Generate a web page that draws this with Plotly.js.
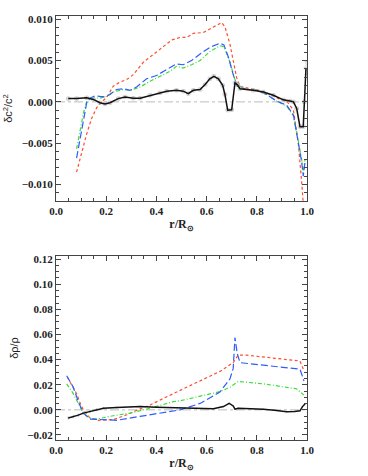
<!DOCTYPE html>
<html>
<head>
<meta charset="utf-8">
<script src="https://cdn.plot.ly/plotly-3.0.1.min.js"></script>
<style>html,body{margin:0;padding:0;background:#fff;}#chart{width:368px;height:476px;}</style>
</head>
<body>
<div id="chart"></div>
<script>
// ---- Top panel: sound-speed difference dc^2/c^2 ----
const obsX_c = [0.049,0.082,0.122,0.149,0.175,0.195,0.215,0.248,0.275,0.308,0.335,0.375,0.414,0.441,0.48,0.507,0.527,0.547,0.574,0.594,0.613,0.629,0.647,0.664,0.673,0.684,0.700,0.713,0.722,0.733,0.786,0.826,0.866,0.906,0.932,0.946,0.959,0.972,0.985,0.989,0.996];
const obsY_c = [0.0004,0.0004,0.0005,0.0003,-0.0001,-0.00025,-0.0001,0.0004,0.0006,0.00045,0.00045,0.0008,0.0011,0.0013,0.0014,0.0013,0.001,0.0014,0.0015,0.0021,0.0028,0.0031,0.0028,0.002,0.0009,-0.001,-0.00095,0.0023,0.0021,0.0016,0.0014,0.0012,0.0008,0.00025,0.0001,0.0,-0.0008,-0.003,-0.003,0.0,0.0041];
const obsErr_c = [0.0002,0.0002,0.0002,0.0002,0.0002,0.0002,0.0002,0.0002,0.0002,0.0002,0.0002,0.0002,0.0002,0.0002,0.0002,0.0002,0.0002,0.0002,0.0002,0.0002,0.0002,0.0002,0.0002,0.0002,0.0002,0.0002,0.0002,0.0002,0.0002,0.0002,0.0002,0.0002,0.0002,0.0002,0.0002,0.0002,0.0002,0.0002,0.0002,0.0002,0.0008];

const redX_c = [0.082,0.102,0.122,0.142,0.162,0.182,0.202,0.228,0.255,0.282,0.308,0.348,0.388,0.428,0.461,0.494,0.521,0.547,0.587,0.627,0.66,0.673,0.693,0.706,0.72,0.733,0.773,0.813,0.853,0.892,0.919,0.946,0.965,0.979,0.985];
const redY_c = [-0.0085,-0.0061,-0.0039,-0.002,-0.0007,0.0,0.00053,0.0019,0.0024,0.0027,0.0033,0.0048,0.0057,0.0067,0.0075,0.0078,0.0078,0.0083,0.0084,0.0091,0.0096,0.0091,0.007,0.005,0.0029,0.0019,0.0016,0.0014,0.0009,0.0003,0.0001,-0.001,-0.0049,-0.0098,-0.0123];

const blueX_c = [0.082,0.096,0.109,0.122,0.135,0.155,0.175,0.195,0.215,0.242,0.268,0.295,0.321,0.361,0.401,0.441,0.48,0.507,0.54,0.574,0.613,0.653,0.669,0.687,0.706,0.722,0.76,0.8,0.839,0.879,0.919,0.946,0.965,0.979,0.985,0.992];
const blueY_c = [-0.0068,-0.0043,-0.002,-0.00016,0.00045,0.00074,0.00066,0.0006,0.0009,0.0015,0.0016,0.0014,0.0018,0.0028,0.0032,0.0039,0.0046,0.0045,0.005,0.0058,0.0066,0.0071,0.0069,0.0054,0.0033,0.0019,0.0015,0.0014,0.0009,0.0001,-0.0004,-0.0016,-0.0049,-0.0073,-0.009,-0.0073];

const greenX_c = [0.082,0.096,0.109,0.122,0.142,0.175,0.202,0.228,0.268,0.295,0.335,0.375,0.414,0.454,0.48,0.507,0.54,0.574,0.613,0.653,0.669,0.693,0.713,0.733,0.76,0.8,0.839,0.879,0.919,0.946,0.965,0.979,0.985,0.992];
const greenY_c = [-0.0057,-0.0034,-0.0014,0.00004,0.0005,0.00045,0.00066,0.0012,0.0015,0.0014,0.0018,0.0025,0.0031,0.0037,0.0043,0.0041,0.0045,0.005,0.0061,0.0068,0.0067,0.0048,0.0027,0.0019,0.0015,0.0014,0.0009,0.0001,-0.0005,-0.0017,-0.0047,-0.0070,-0.0086,-0.0070];

// ---- Bottom panel: density difference drho/rho ----
const obsX_r = [0.049,0.069,0.089,0.109,0.135,0.162,0.189,0.242,0.30,0.335,0.401,0.494,0.56,0.627,0.667,0.69,0.706,0.713,0.726,0.78,0.826,0.87,0.919,0.95,0.972,0.982,0.992];
const obsY_r = [-0.0065,-0.0055,-0.0042,-0.0026,-0.0012,0.0001,0.0013,0.0018,0.0024,0.0026,0.002,0.0014,0.0011,0.0008,0.0026,0.0051,0.0031,0.0005,0.0013,0.0010,0.0005,-0.0004,-0.0016,-0.0013,-0.0008,0.0026,0.0047];
const obsErr_r = [0.0012,0.0012,0.0012,0.0012,0.0012,0.0012,0.001,0.0008,0.0006,0.0006,0.0005,0.0005,0.0005,0.0005,0.0005,0.0005,0.0005,0.0005,0.0005,0.0005,0.0005,0.0005,0.0005,0.0005,0.0005,0.0005,0.0005];

const redX_r = [0.045,0.069,0.082,0.095,0.109,0.135,0.169,0.228,0.282,0.335,0.375,0.435,0.494,0.56,0.653,0.706,0.726,0.76,0.84,0.92,0.972,0.988];
const redY_r = [0.026,0.018,0.0129,0.006,0.0,-0.0065,-0.0083,-0.0078,-0.0039,0.0008,0.0039,0.0098,0.0156,0.0215,0.0306,0.0376,0.0436,0.0435,0.0418,0.040,0.0389,0.031];

const blueX_r = [0.0426,0.069,0.089,0.109,0.135,0.175,0.242,0.335,0.467,0.494,0.574,0.653,0.693,0.706,0.713,0.722,0.733,0.80,0.90,0.972,0.988];
const blueY_r = [0.0272,0.018,0.0065,-0.0026,-0.0073,-0.0078,-0.0083,-0.0052,-0.0013,0.0,0.0051,0.0142,0.0246,0.033,0.0576,0.045,0.0376,0.0362,0.0345,0.0324,0.023];

const greenX_r = [0.0426,0.069,0.089,0.109,0.135,0.162,0.228,0.295,0.375,0.467,0.494,0.574,0.653,0.693,0.726,0.826,0.958,0.988];
const greenY_r = [0.0207,0.0129,0.0051,-0.0026,-0.0065,-0.0073,-0.0047,-0.0026,0.0013,0.0065,0.0072,0.0109,0.0145,0.018,0.0226,0.0207,0.0168,0.0117];

const RED = '#ff4d2e', BLUE = '#2f5cff', GREEN = '#3ddc3d';

function line(x, y, color, dash, xa, ya) {
  return {x: x, y: y, xaxis: xa, yaxis: ya, mode: 'lines', type: 'scatter',
    line: {color: color, width: 1.2, dash: dash}, showlegend: false, hoverinfo: 'skip'};
}

const traces = [
  line(redX_c, redY_c, RED, '3px,2.5px', 'x', 'y'),
  line(greenX_c, greenY_c, GREEN, '4px,2px,1px,2px', 'x', 'y'),
  line(blueX_c, blueY_c, BLUE, '7px,3px', 'x', 'y'),
  {x: obsX_c, y: obsY_c, xaxis: 'x', yaxis: 'y', mode: 'lines', type: 'scatter',
   line: {color: '#111', width: 1.5}, showlegend: false,
   error_y: {type: 'data', array: obsErr_c, color: '#bbb', thickness: 0.7, width: 1.5},
   error_x: {type: 'constant', value: 0.007, color: '#bbb', thickness: 0.7, width: 1.5}},
  line(redX_r, redY_r, RED, '3px,2.5px', 'x2', 'y2'),
  line(greenX_r, greenY_r, GREEN, '4px,2px,1px,2px', 'x2', 'y2'),
  line(blueX_r, blueY_r, BLUE, '7px,3px', 'x2', 'y2'),
  {x: obsX_r, y: obsY_r, xaxis: 'x2', yaxis: 'y2', mode: 'lines', type: 'scatter',
   line: {color: '#111', width: 1.5}, showlegend: false,
   error_y: {type: 'data', array: obsErr_r, color: '#bbb', thickness: 1.5, width: 0}}
];

const tickFont = {family: 'Liberation Serif, serif', size: 11, color: '#222', weight: 'bold'};
const titleFont = {family: 'Liberation Serif, serif', size: 12, color: '#222', weight: 'bold'};
const yTitleFont = {family: 'Liberation Sans, sans-serif', size: 11, color: '#222'};

function xax(anchor) {
  return {anchor: anchor, range: [0, 1], dtick: 0.2, tick0: 0, tickformat: '.1f',
    ticks: 'inside', ticklen: 5, tickcolor: '#444', mirror: 'allticks', showline: true,
    linecolor: '#444', linewidth: 1, showgrid: false, zeroline: false, tickfont: tickFont,
    minor: {dtick: 0.05, ticklen: 3, tickcolor: '#444', ticks: 'inside'},
    title: {text: 'r/R<sub>⊙</sub>', font: titleFont, standoff: 3}};
}

const layout = {
  width: 368, height: 476,
  margin: {l: 56, r: 61, t: 16, b: 36},
  paper_bgcolor: '#fff', plot_bgcolor: '#fff',
  xaxis: xax('y'),
  xaxis2: xax('y2'),
  yaxis: {domain: [0.5637, 1], anchor: 'x', range: [-0.012, 0.0104], dtick: 0.005, tickformat: '.3f',
    ticks: 'inside', ticklen: 5, tickcolor: '#444', mirror: 'allticks', showline: true,
    linecolor: '#444', showgrid: false, zeroline: false, tickfont: tickFont,
    minor: {dtick: 0.001, ticklen: 3, tickcolor: '#444', ticks: 'inside'},
    title: {text: 'δc<sup>2</sup>/c<sup>2</sup>', font: yTitleFont, standoff: 6}},
  yaxis2: {domain: [0, 0.434], anchor: 'x2', range: [-0.024, 0.1225], dtick: 0.02, tickformat: '.2f',
    ticks: 'inside', ticklen: 5, tickcolor: '#444', mirror: 'allticks', showline: true,
    linecolor: '#444', showgrid: false, zeroline: false, tickfont: tickFont,
    minor: {dtick: 0.005, ticklen: 3, tickcolor: '#444', ticks: 'inside'},
    title: {text: 'δρ/ρ', font: yTitleFont, standoff: 6}},
  shapes: [
    {type: 'line', xref: 'x', yref: 'y', x0: 0, x1: 1, y0: 0, y1: 0, line: {color: '#aaa', width: 0.8, dash: 'dashdot'}, layer: 'below'},
    {type: 'line', xref: 'x2', yref: 'y2', x0: 0, x1: 1, y0: 0, y1: 0, line: {color: '#aaa', width: 0.8, dash: 'dashdot'}, layer: 'below'}
  ]
};

Plotly.newPlot('chart', traces, layout, {staticPlot: true, displayModeBar: false});
</script>
</body>
</html>
